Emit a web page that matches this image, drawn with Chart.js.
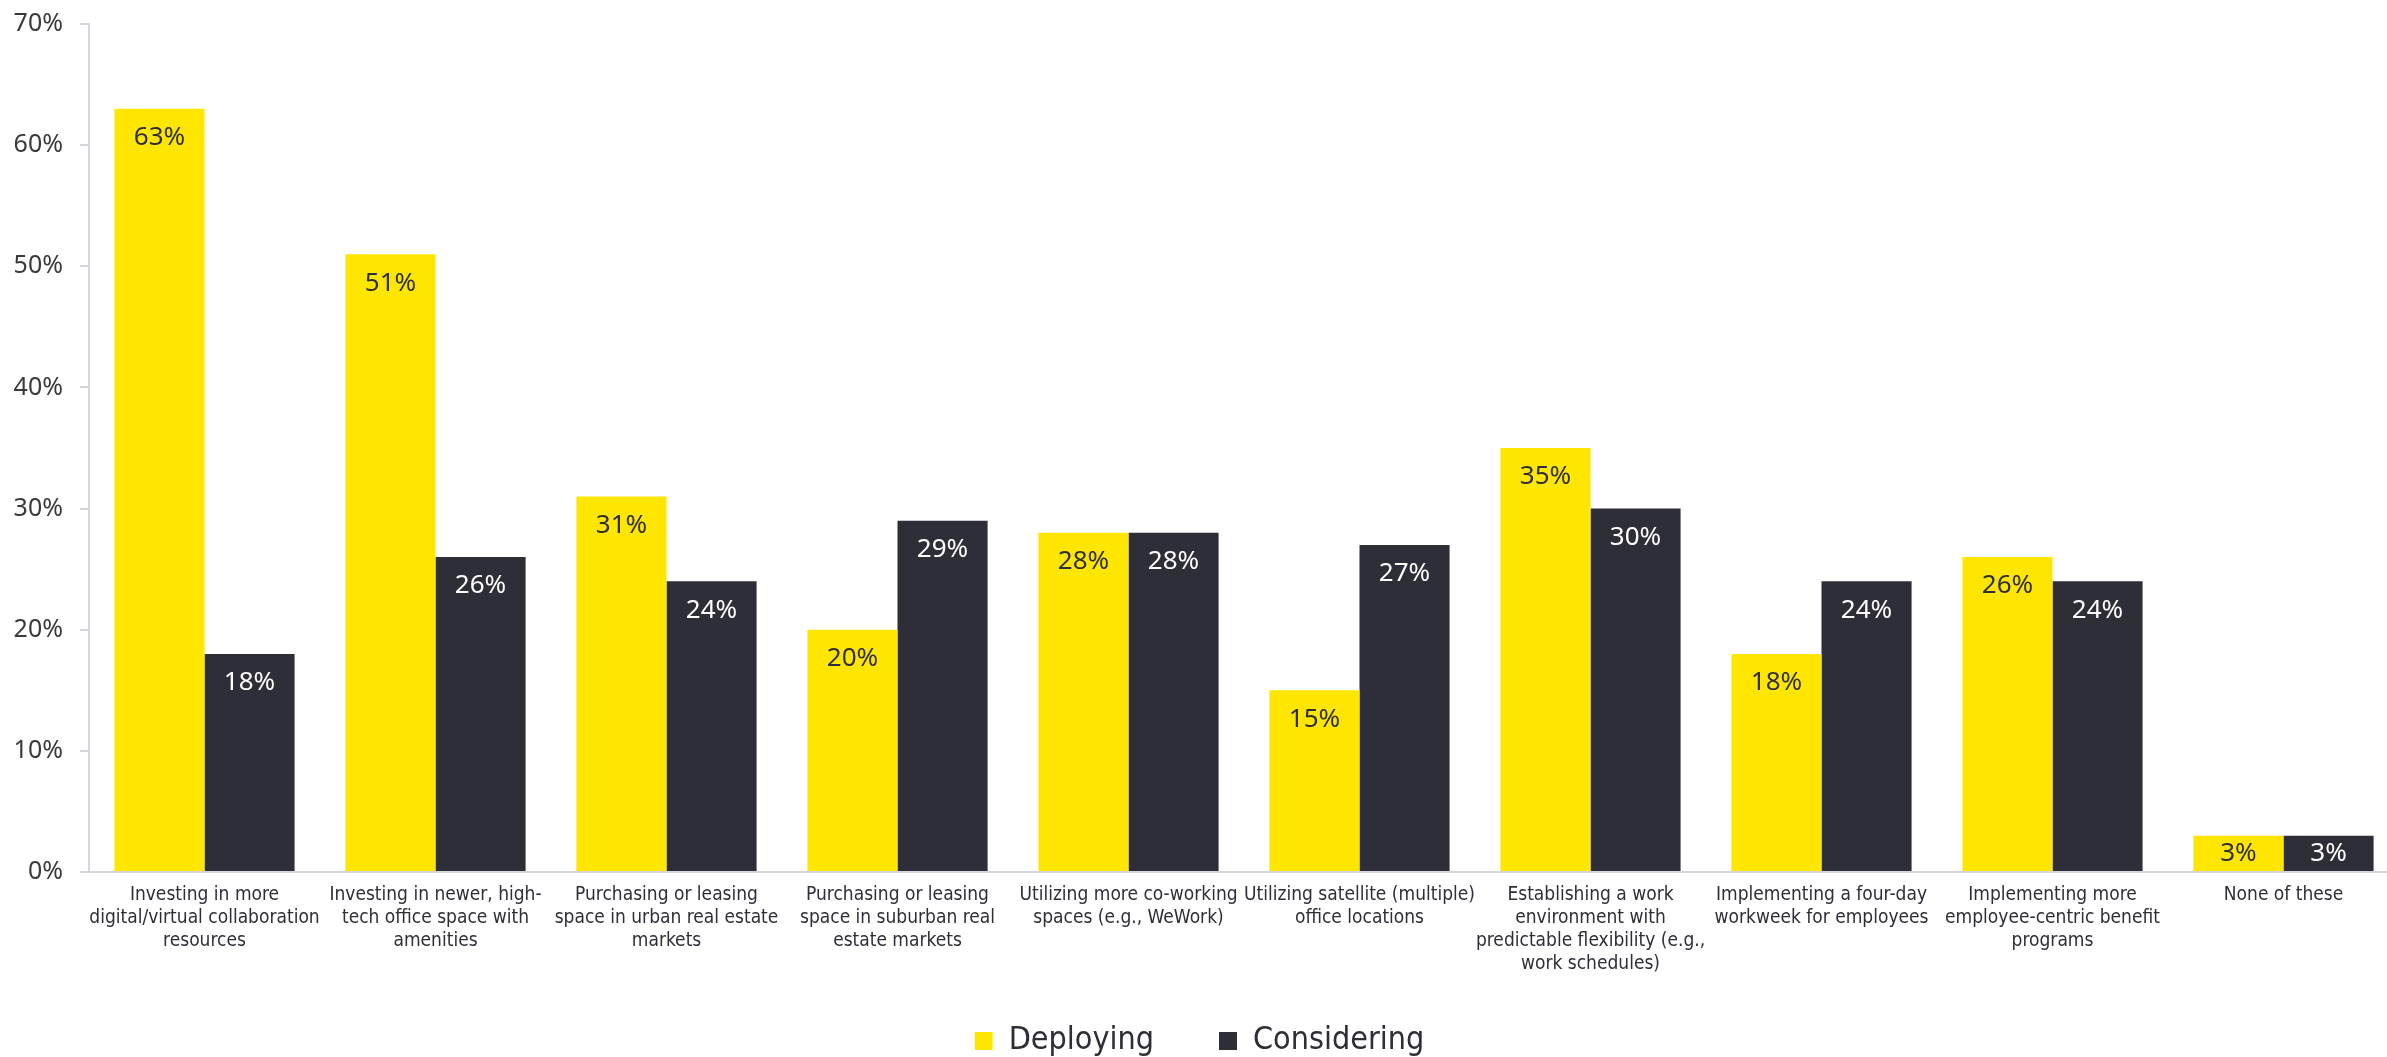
<!DOCTYPE html>
<html>
<head>
<meta charset="utf-8">
<script src="https://cdn.jsdelivr.net/npm/chart.js@4.4.1/dist/chart.umd.min.js"></script>
<style>
  html, body { margin: 0; padding: 0; background: #ffffff; overflow: hidden; }
  #wrap { width: 2400px; height: 1067px; }
</style>
</head>
<body>
<div id="wrap"><canvas id="myChart" width="2400" height="1067"></canvas></div>
<script>
// Categories (wrapped the way the source wraps them)
const categories = [
    ['Investing in more', 'digital/virtual collaboration', 'resources'],
    ['Investing in newer, high-', 'tech office space with', 'amenities'],
    ['Purchasing or leasing', 'space in urban real estate', 'markets'],
    ['Purchasing or leasing', 'space in suburban real', 'estate markets'],
    ['Utilizing more co-working', 'spaces (e.g., WeWork)'],
    ['Utilizing satellite (multiple)', 'office locations'],
    ['Establishing a work', 'environment with', 'predictable flexibility (e.g.,', 'work schedules)'],
    ['Implementing a four-day', 'workweek for employees'],
    ['Implementing more', 'employee-centric benefit', 'programs'],
    ['None of these']
];

// Series values (%)
const deploying = [63, 51, 31, 20, 28, 15, 35, 18, 26, 3];
const considering = [18, 26, 24, 29, 28, 27, 30, 24, 24, 3];

// Y axis ticks
const yMax = 70;
const yStep = 10;

const yellow = '#FFE600';
const dark = '#2E2E38';
const axisGrey = '#D4D4DC';
const textColor = '#2E2E38';
const labelColors = [textColor, '#FFFFFF'];
const narrowFont = '"Liberation Sans Narrow", "DejaVu Sans Condensed", sans-serif';

// Draws the value labels just inside the top of each bar
const barLabels = {
    id: 'barLabels',
    afterDatasetsDraw(chart) {
        const ctx = chart.ctx;
        chart.data.datasets.forEach((ds, i) => {
            const meta = chart.getDatasetMeta(i);
            meta.data.forEach((bar, j) => {
                const h = bar.base - bar.y;
                const off = Math.min(29, h / 2);
                ctx.save();
                ctx.font = '26px "Noto Sans", sans-serif';
                ctx.fillStyle = labelColors[i];
                ctx.textAlign = 'center';
                ctx.textBaseline = 'middle';
                ctx.fillText(ds.data[j] + '%', bar.x, bar.y + off);
                ctx.restore();
            });
        });
    }
};

const ctx = document.getElementById('myChart').getContext('2d');
const myChart = new Chart(ctx, {
    type: 'bar',
    data: {
        labels: categories,
        datasets: [
            { label: 'Deploying', data: deploying, backgroundColor: yellow },
            { label: 'Considering', data: considering, backgroundColor: dark }
        ]
    },
    options: {
        responsive: false,
        animation: false,
        devicePixelRatio: 1,
        categoryPercentage: 0.78,
        barPercentage: 1.0,
        layout: {
            padding: { top: 24, right: 1, bottom: 0, left: 0 }
        },
        scales: {
            x: {
                grid: { drawOnChartArea: false, drawTicks: false },
                border: { color: axisGrey, width: 2 },
                ticks: {
                    autoSkip: false,
                    maxRotation: 0,
                    minRotation: 0,
                    padding: 12,
                    color: textColor,
                    font: { family: narrowFont, size: 19, lineHeight: 1.2 }
                },
                afterFit(scale) { scale.height = 104; }
            },
            y: {
                min: 0,
                max: yMax,
                grid: { drawOnChartArea: false, drawTicks: true, tickLength: 9, color: axisGrey, lineWidth: 2 },
                border: { color: axisGrey, width: 2 },
                ticks: {
                    stepSize: yStep,
                    padding: 17,
                    color: '#3A3A3A',
                    font: { family: '"Noto Sans", sans-serif', size: 25 },
                    callback: (v) => v + '%'
                },
                afterFit(scale) {
                    scale.width = 89;
                    scale.paddingTop = 10;
                    scale.paddingBottom = 10;
                }
            }
        },
        plugins: {
            legend: {
                position: 'bottom',
                // wide gap between the two items; the empty title with a
                // negative padding pulls the row back up so it doesn't push
                // the category labels out of their box
                title: { display: true, text: '', font: { size: 12 }, padding: { top: -30.4, bottom: 0 } },
                labels: {
                    boxWidth: 18,
                    boxHeight: 18,
                    padding: 65,
                    color: textColor,
                    font: { family: narrowFont, size: 32 }
                }
            },
            tooltip: { enabled: false }
        }
    },
    plugins: [barLabels]
});
</script>
</body>
</html>
